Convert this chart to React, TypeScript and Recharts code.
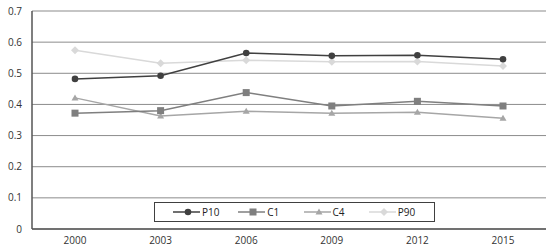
import React from "react";
import { LineChart, Line, XAxis, YAxis, CartesianGrid, ReferenceLine } from "recharts";

const years = ["2000", "2003", "2006", "2009", "2012", "2015"];
const p10 = [0.482, 0.492, 0.565, 0.556, 0.558, 0.545];
const c1 = [0.372, 0.38, 0.438, 0.395, 0.41, 0.395];
const c4 = [0.421, 0.363, 0.378, 0.372, 0.375, 0.356];
const p90 = [0.574, 0.532, 0.542, 0.537, 0.538, 0.523];
const yTicks = [0, 0.1, 0.2, 0.3, 0.4, 0.5, 0.6, 0.7];

const data = years.map((y, i) => ({ year: y, P10: p10[i], C1: c1[i], C4: c4[i], P90: p90[i] }));

const COLORS = { P10: "#404040", C1: "#7f7f7f", C4: "#a6a6a6", P90: "#d9d9d9" };
const FONT = "'Open Sans', 'DejaVu Sans', sans-serif";

type Shape = "circle" | "square" | "triangle" | "diamond";

const Marker = ({ cx, cy, color, shape }: { cx: number; cy: number; color: string; shape: Shape }) => {
  if (cx == null || cy == null) return null;
  if (shape === "circle") return <circle cx={cx} cy={cy} r={3.3} fill={color} stroke="none" />;
  if (shape === "square") return <rect x={cx - 3.5} y={cy - 3.5} width={7} height={7} fill={color} />;
  if (shape === "triangle")
    return <polygon points={`${cx},${cy - 3.5} ${cx + 3.5},${cy + 2.5} ${cx - 3.5},${cy + 2.5}`} fill={color} />;
  return <polygon points={`${cx},${cy - 4} ${cx + 4},${cy} ${cx},${cy + 4} ${cx - 4},${cy}`} fill={color} />;
};

const makeDot = (color: string, shape: Shape) => (props: any) => (
  <Marker key={`${shape}-${props.index}`} cx={props.cx} cy={props.cy} color={color} shape={shape} />
);

const legendItems: { name: string; color: string; shape: Shape }[] = [
  { name: "P10", color: COLORS.P10, shape: "circle" },
  { name: "C1", color: COLORS.C1, shape: "square" },
  { name: "C4", color: COLORS.C4, shape: "triangle" },
  { name: "P90", color: COLORS.P90, shape: "diamond" },
];

const LegendBox = () => (
  <div
    style={{
      position: "absolute",
      left: 154,
      top: 202,
      width: 281,
      height: 20,
      border: "1px solid #404040",
      background: "#fff",
      display: "flex",
      alignItems: "center",
      boxSizing: "border-box",
      paddingLeft: 18,
      fontFamily: FONT,
      fontSize: 10,
      color: "#222",
    }}
  >
    {legendItems.map((it) => (
      <div key={it.name} style={{ display: "flex", alignItems: "center", width: 66 }}>
        <svg width={27} height={10}>
          <line x1={0} y1={5} x2={27} y2={5} stroke={it.color} strokeWidth={1.5} />
          <Marker cx={15} cy={5} color={it.color} shape={it.shape} />
        </svg>
        <span style={{ marginLeft: 2 }}>{it.name}</span>
      </div>
    ))}
  </div>
);

export default function App() {
  return (
    <div style={{ position: "fixed", left: 0, top: 0, width: 553, height: 251, background: "#fff" }}>
      <LineChart width={553} height={251} data={data} margin={{ top: 11, right: 7, bottom: 0, left: 0 }}>
        <CartesianGrid vertical={false} stroke="#8c8c8c" strokeWidth={1} />
        <ReferenceLine y={0.7} stroke="#c4c4c4" strokeWidth={1.5} />
        <XAxis
          dataKey="year"
          padding={{ left: 43, right: 43 }}
          axisLine={{ stroke: "#555", strokeWidth: 1.5 }}
          tickLine={false}
          tickSize={0}
          tickMargin={8}
          height={22}
          tick={{ fontFamily: FONT, fontSize: 10, fill: "#333" }}
        />
        <YAxis
          domain={[0, 0.7]}
          ticks={yTicks}
          axisLine={{ stroke: "#555", strokeWidth: 1.5 }}
          tickLine={false}
          tickSize={0}
          tickMargin={10}
          width={32}
          tickFormatter={(v: number) => (v === 0 ? "0" : String(v))}
          tick={{ fontFamily: FONT, fontSize: 10, fill: "#333" }}
        />
        <Line dataKey="P90" stroke={COLORS.P90} strokeWidth={1.5} dot={makeDot(COLORS.P90, "diamond")} isAnimationActive={false} />
        <Line dataKey="C4" stroke={COLORS.C4} strokeWidth={1.5} dot={makeDot(COLORS.C4, "triangle")} isAnimationActive={false} />
        <Line dataKey="C1" stroke={COLORS.C1} strokeWidth={1.5} dot={makeDot(COLORS.C1, "square")} isAnimationActive={false} />
        <Line dataKey="P10" stroke={COLORS.P10} strokeWidth={1.5} dot={makeDot(COLORS.P10, "circle")} isAnimationActive={false} />
      </LineChart>
      <LegendBox />
    </div>
  );
}
